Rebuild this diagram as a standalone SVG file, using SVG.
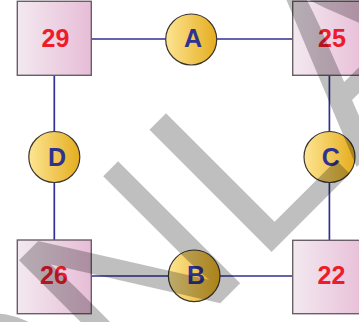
<svg xmlns="http://www.w3.org/2000/svg" width="359" height="322" viewBox="0 0 359 322">
<defs>
<linearGradient id="gBox" x1="0" y1="0" x2="1" y2="0">
<stop offset="0" stop-color="#f3e9f0"/>
<stop offset="1" stop-color="#e7bdd7"/>
</linearGradient>
<linearGradient id="gCirc" x1="0" y1="0" x2="1" y2="0">
<stop offset="0" stop-color="#fde592"/>
<stop offset="1" stop-color="#e5ad1f"/>
</linearGradient>
<style>
.box{fill:url(#gBox);stroke:#6a5f66;stroke-width:1.4}
.circ{fill:url(#gCirc);stroke:#3a3530;stroke-width:1.2}
.num{font-family:"Liberation Sans",Arial,sans-serif;font-weight:bold;font-size:25px;fill:#ec1c2a;text-anchor:middle}
.let{font-family:"Liberation Sans",Arial,sans-serif;font-weight:bold;font-size:25px;fill:#2e3192;text-anchor:middle}
.edge{stroke:#2e3192;stroke-width:1.7;fill:none}
.wm{font-family:"Liberation Sans",Arial,sans-serif;font-size:251px;fill:#000;fill-opacity:0.25}
</style>
</defs>
<g id="connectors">
<line class="edge" x1="91" y1="39" x2="166" y2="39"/>
<line class="edge" x1="217" y1="39" x2="293" y2="39"/>
<line class="edge" x1="54.3" y1="75" x2="54.3" y2="131.5"/>
<line class="edge" x1="54.3" y1="182.5" x2="54.3" y2="240"/>
<line class="edge" x1="329.4" y1="75" x2="329.4" y2="131.5"/>
<line class="edge" x1="329.4" y1="182.5" x2="329.4" y2="240"/>
<line class="edge" x1="91" y1="276" x2="168.5" y2="276"/>
<line class="edge" x1="220" y1="276" x2="293" y2="276"/>
</g>
<g id="n29"><rect class="box" x="17.3" y="1.3" width="74" height="74"/><text class="num" x="55.5" y="47.3">29</text></g>
<g id="n25"><rect class="box" x="292.7" y="1.3" width="74" height="74"/><text class="num" x="332" y="47.3">25</text></g>
<g id="n26"><rect class="box" x="17.3" y="240" width="74" height="73.7"/><text class="num" x="54" y="284">26</text></g>
<g id="n22"><rect class="box" x="292.7" y="240.3" width="74" height="73.4"/><text class="num" x="331.5" y="284">22</text></g>
<g id="nA"><circle class="circ" cx="191.2" cy="39.5" r="25.5"/><text class="let" x="193" y="47.3">A</text></g>
<g id="nD"><circle class="circ" cx="54.3" cy="157" r="25.5"/><text class="let" x="57" y="166">D</text></g>
<g id="nC"><circle class="circ" cx="329.5" cy="157" r="25.5"/><text class="let" x="330.8" y="165.5">C</text></g>
<g id="nB"><circle class="circ" cx="194.2" cy="275.8" r="25.8"/><text class="let" x="196" y="284">B</text></g>
<g id="watermark"><text class="wm" transform="translate(270,253.5) rotate(-45)" x="-397 -203 -18.5 122" y="0">ONLA</text></g>
</svg>
